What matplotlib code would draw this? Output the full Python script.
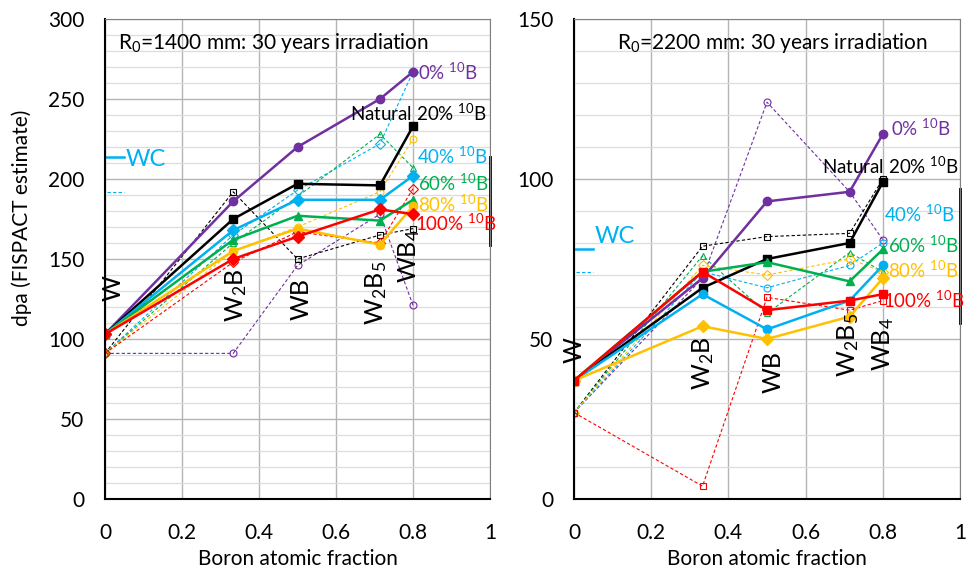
import numpy as np
import matplotlib.pyplot as plt
from matplotlib.ticker import MultipleLocator

plt.rcParams['font.family'] = ['Lato', 'DejaVu Sans']
plt.rcParams['mathtext.fontset'] = 'custom'
plt.rcParams['mathtext.rm'] = 'Lato'
plt.rcParams['mathtext.it'] = 'Lato:italic'
plt.rcParams['mathtext.bf'] = 'Lato:bold'

# boron atomic fraction of each compound
compounds = ["W", "W$_2$B", "WB", "W$_2$B$_5$", "WB$_4$"]
boron_frac = [0.0, 0.333, 0.5, 0.714, 0.8]
enrich_labels = ["0% $^{10}$B", "Natural 20% $^{10}$B", "40% $^{10}$B",
                 "60% $^{10}$B", "80% $^{10}$B", "100% $^{10}$B"]
colors = ["#7030A0", "#000000", "#00B0F0", "#00B050", "#FFC000", "#FF0000"]

# R0 = 1400 mm, solid lines
r1400_solid = [
    [103, 186, 220, 250, 267],
    [103, 175, 197, 196, 233],
    [103, 168, 187, 187, 202],
    [103, 162, 177, 174, 187],
    [103, 155, 169, 159, 183],
    [103, 150, 164, 181, 178],
]
# R0 = 1400 mm, dashed lines
r1400_dash = [
    [91, 91, 146, 178, 121],
    [91, 192, 150, 165, 169],
    [91, 165, 193, 222, 267],
    [91, 160, 189, 228, 207],
    [91, 155, 170, 192, 225],
    [91, 148, 167, 160, 194],
]
# R0 = 2200 mm, solid lines
r2200_solid = [
    [37, 69, 93, 96, 114],
    [37, 66, 75, 80, 99],
    [37, 64, 53, 62, 73],
    [37, 71, 74, 68, 78],
    [37, 54, 50, 57, 69],
    [37, 71, 59, 62, 64],
]
# R0 = 2200 mm, dashed lines
r2200_dash = [
    [27, 69, 124, 96, 81],
    [27, 79, 82, 83, 100],
    [27, 71, 66, 73, 80],
    [27, 76, 58, 77, 71],
    [27, 73, 70, 75, 71],
    [27, 4, 63, 59, 62],
]
wc_1400 = [214, 192]
wc_2200 = [78, 71]

markers_1400 = ["o", "s", "D", "^", "o", "D"]
markers_2200 = ["o", "s", "o", "^", "D", "s"]


def draw_panel(ax, solid, dashed, markers, ymax, wc, wc_text_y, title, title_x,
               label_pos, cat_pos):
    ax.set_xlim(0, 1)
    ax.set_ylim(0, ymax)
    ax.xaxis.set_major_locator(MultipleLocator(0.2))
    ax.yaxis.set_major_locator(MultipleLocator(50))
    ax.yaxis.set_minor_locator(MultipleLocator(10))
    ax.grid(which="minor", axis="y", color="#dcdcdc", lw=0.9)
    ax.grid(which="major", axis="y", color="#b4b4b4", lw=1.0)
    ax.grid(which="major", axis="x", color="#b4b4b4", lw=1.0)
    ax.set_axisbelow(True)
    ax.tick_params(which="both", length=0, labelsize=15)
    ax.tick_params(axis="y", pad=15)
    ax.tick_params(axis="x", pad=17)
    ax.set_xticks([0, 0.2, 0.4, 0.6, 0.8, 1.0])
    ax.set_xticklabels(["0", "0.2", "0.4", "0.6", "0.8", "1"])
    for s in ["left", "bottom"]:
        ax.spines[s].set_color("black")
        ax.spines[s].set_linewidth(1.5)
    for s in ["top", "right"]:
        ax.spines[s].set_color("#808080")

    for i in range(len(colors)):
        ax.plot(boron_frac, dashed[i], ls=(0, (3, 2)), lw=0.8, color=colors[i],
                marker=markers[i], ms=5, mfc="none", mec=colors[i], mew=0.8)
    for i in range(len(colors)):
        ax.plot(boron_frac, solid[i], ls="-", lw=1.8, color=colors[i],
                marker=markers[i], ms=6, mfc=colors[i], mec=colors[i])

    # WC reference ticks
    ax.plot([0, 0.05], [wc[0], wc[0]], color="#00B0F0", lw=1.8)
    ax.plot([0.005, 0.05], [wc[1], wc[1]], color="#00B0F0", lw=0.8, ls=(0, (3, 2)))
    ax.text(0.053, wc_text_y, "WC", color="#00B0F0", fontsize=17, va="center")

    ax.text(title_x, 0.95, title, transform=ax.transAxes, fontsize=15, va="center")

    for i, lab in enumerate(enrich_labels):
        x, y = label_pos[i]
        ax.text(x, y, lab, color=colors[i], fontsize=13.5,
                va="center", ha="left")

    for i, c in enumerate(compounds):
        x, y = cat_pos[i]
        ax.text(x, y, c, rotation=90, fontsize=18, ha="center", va="bottom")

    ax.set_xlabel("Boron atomic fraction", fontsize=15)
    ax.xaxis.set_label_coords(0.5, -0.104)
    # black marker on the right edge
    ax.plot([1, 1], label_pos[6], color="black", lw=2, clip_on=False)


fig = plt.figure(figsize=(9.66, 5.74), dpi=100)
ax1 = fig.add_axes([0.1087, 0.1307, 0.3986, 0.8362])
ax2 = fig.add_axes([0.5942, 0.1307, 0.3996, 0.8362])

draw_panel(ax1, r1400_solid, r1400_dash, markers_1400, 300, wc_1400, 212,
           "R$_0$=1400 mm: 30 years irradiation", 0.034,
           [(0.813, 267), (0.636, 241), (0.81, 214), (0.813, 197.5),
            (0.813, 184), (0.805, 172.5), (159, 214)],
           [(0.02, 124), (0.34, 110.5), (0.51, 112), (0.705, 109), (0.79, 135)])
draw_panel(ax2, r2200_solid, r2200_dash, markers_2200, 150, wc_2200, 82,
           "R$_0$=2200 mm: 30 years irradiation", 0.112,
           [(0.82, 116), (0.642, 104), (0.803, 89), (0.813, 79.4),
            (0.813, 71.6), (0.800, 62), (55, 97)],
           [(0.0, 42.5), (0.335, 34), (0.515, 33), (0.71, 38), (0.8, 40)])

ax1.set_ylabel("dpa (FISPACT estimate)", fontsize=15)
ax1.yaxis.set_label_coords(-0.19, 0.585)

fig.savefig("out.png", dpi=100)
